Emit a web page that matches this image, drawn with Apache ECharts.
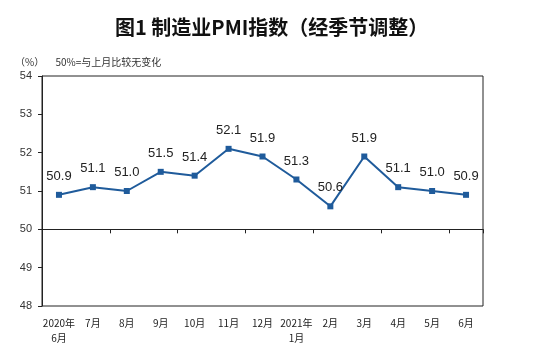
<!DOCTYPE html>
<html>
<head>
<meta charset="utf-8">
<script src="https://cdn.jsdelivr.net/npm/echarts@6/dist/echarts.min.js"></script>
<style>
html,body{margin:0;padding:0;background:#fff;}
#chart{width:554px;height:349px;}
</style>
</head>
<body>
<div id="chart"></div>
<script>
// Monthly manufacturing PMI, seasonally adjusted
const months = ['2020年\n6月','7月','8月','9月','10月','11月','12月','2021年\n1月','2月','3月','4月','5月','6月'];
const pmi = [50.9, 51.1, 51.0, 51.5, 51.4, 52.1, 51.9, 51.3, 50.6, 51.9, 51.1, 51.0, 50.9];
const yTicks = [48, 49, 50, 51, 52, 53, 54];

const yMin = yTicks[0], yMax = yTicks[yTicks.length - 1], baseLine = 50;
const gridTop = 76, gridBottom = 43, chartH = 349;
const plotH = chartH - gridTop - gridBottom;
// lift the tick-only axis up to the 50 line
const baseOffset = -plotH * (baseLine - yMin) / (yMax - yMin);

const font = '"Liberation Sans", Arial, "Noto Sans CJK SC", sans-serif';
const chart = echarts.init(document.getElementById('chart'));
chart.setOption({
  animation: false,
  backgroundColor: '#fff',
  title: [{
    text: '图1 制造业PMI指数（经季节调整）',
    left: 110, top: 12,
    textStyle: {fontFamily: '"Noto Sans CJK SC", sans-serif', fontSize: 20, fontWeight: 'bold', color: '#111'}
  }, {
    text: '（%）     50%=与上月比较无变化',
    left: 10, top: 52,
    textStyle: {fontFamily: '"Noto Sans CJK SC", sans-serif', fontSize: 10, fontWeight: 'normal', color: '#333'}
  }],
  grid: {left: 42, right: 71, top: gridTop, bottom: gridBottom, show: true, borderColor: '#222', borderWidth: 1},
  xAxis: [{
    type: 'category', data: months, position: 'bottom',
    axisLine: {show: false}, axisTick: {show: false},
    axisLabel: {interval: 0, fontSize: 10, color: '#222', margin: 10, lineHeight: 15,
      fontFamily: '"Noto Sans CJK SC", sans-serif'}
  }, {
    type: 'category', data: months, position: 'bottom', offset: baseOffset,
    axisLine: {show: true, lineStyle: {color: '#222', width: 1}},
    axisTick: {show: true, length: 4, lineStyle: {color: '#222'}},
    axisLabel: {show: false}
  }],
  yAxis: {
    type: 'value', min: yMin, max: yMax, interval: 1,
    axisLine: {show: true, lineStyle: {color: '#222'}},
    axisTick: {show: true, length: 4, lineStyle: {color: '#222'}},
    splitLine: {show: false},
    axisLabel: {fontSize: 11, color: '#333', margin: 10, fontFamily: font}
  },
  series: [{
    type: 'line', data: pmi, xAxisIndex: 0,
    symbol: 'rect', symbolSize: 6,
    lineStyle: {color: '#1f5b9b', width: 2},
    itemStyle: {color: '#1f5b9b'},
    label: {show: true, position: 'top', distance: 9, fontSize: 13, color: '#222',
      fontFamily: font, formatter: p => p.value.toFixed(1)}
  }]
});
</script>
</body>
</html>
